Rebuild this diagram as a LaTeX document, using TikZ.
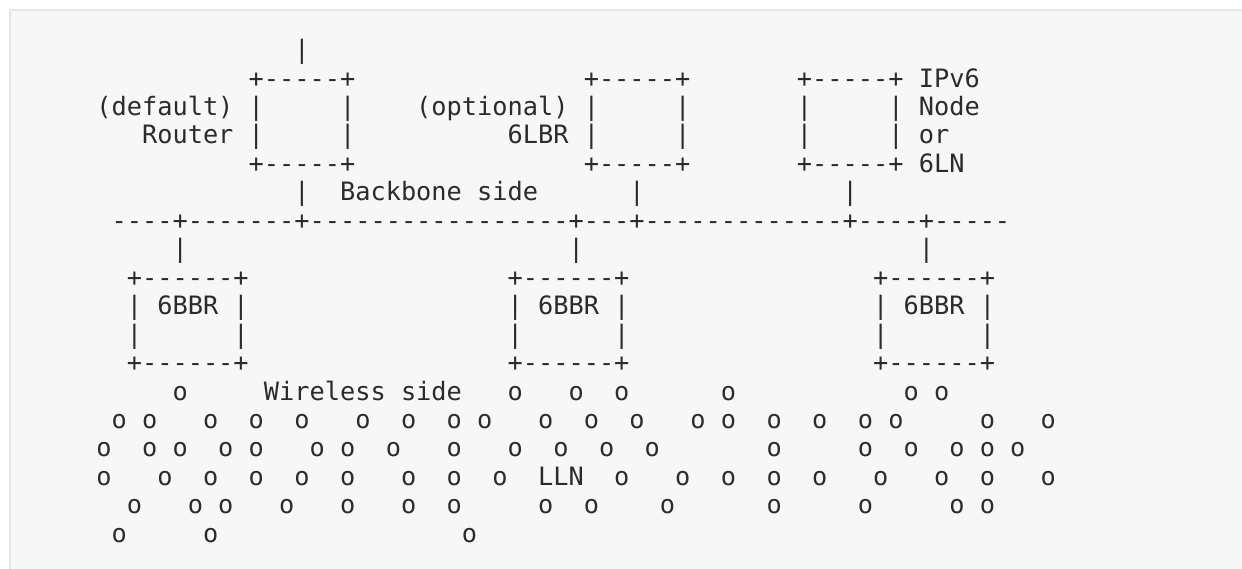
\documentclass[tikz,border=0pt]{standalone}
\usepackage{fontspec}
\setmonofont{DejaVu Sans Mono}
\definecolor{ink}{HTML}{2B2B2B}
\definecolor{panel}{HTML}{F7F7F7}
\definecolor{panelline}{HTML}{E6E6E6}
\begin{document}
\begin{tikzpicture}[x=1bp,y=-1bp,
  asc/.style={anchor=base west, inner sep=0pt, outer sep=0pt, text=ink,
    font=\ttfamily\fontsize{25.3bp}{28bp}\selectfont},
  panelbox/.style={fill=panel},
  panelrule/.style={draw=panelline, line width=1.5bp}]
\useasboundingbox (0,0) rectangle (1242,569);
\clip (0,0) rectangle (1242,569);
\fill[white] (0,0) rectangle (1242,569);
\fill[panelbox] (10,10) rectangle (1260,590);
\draw[panelrule] (10,590) -- (10,10) -- (1260,10);
\begin{scope}[x=15.23bp, y=-28.45bp, shift={(96.4bp,-58.6bp)}]
% row 0
\node[asc] (uplink) at (13,0) {|};
% row 1
\node[asc] (rtTop) at (10,1) {+-----+};
\node[asc] (lbrTop) at (32,1) {+-----+};
\node[asc] (ndTop) at (46,1) {+-----+};
\node[asc] (lblIPv6) at (54,1) {IPv6};
% row 2
\node[asc] (lblDefault) at (0,2) {(default)};
\node[asc] (rtL2) at (10,2) {|};
\node[asc] (rtR2) at (16,2) {|};
\node[asc] (lblOptional) at (21,2) {(optional)};
\node[asc] (lbrL2) at (32,2) {|};
\node[asc] (lbrR2) at (38,2) {|};
\node[asc] (ndL2) at (46,2) {|};
\node[asc] (ndR2) at (52,2) {|};
\node[asc] (lblNode) at (54,2) {Node};
% row 3
\node[asc] (lblRouter) at (3,3) {Router};
\node[asc] (rtL3) at (10,3) {|};
\node[asc] (rtR3) at (16,3) {|};
\node[asc] (lbl6LBR) at (27,3) {6LBR};
\node[asc] (lbrL3) at (32,3) {|};
\node[asc] (lbrR3) at (38,3) {|};
\node[asc] (ndL3) at (46,3) {|};
\node[asc] (ndR3) at (52,3) {|};
\node[asc] (lblOr) at (54,3) {or};
% row 4
\node[asc] (rtBot) at (10,4) {+-----+};
\node[asc] (lbrBot) at (32,4) {+-----+};
\node[asc] (ndBot) at (46,4) {+-----+};
\node[asc] (lbl6LN) at (54,4) {6LN};
% row 5
\node[asc] (rtLink) at (13,5) {|};
\node[asc] (lblBackbone) at (16,5) {Backbone};
\node[asc] (lblSide1) at (25,5) {side};
\node[asc] (lbrLink) at (35,5) {|};
\node[asc] (ndLink) at (49,5) {|};
% row 6 : backbone
\node[asc] (bb1) at (1,6) {----+};
\node[asc] (bb2) at (6,6) {-------+};
\node[asc] (bb3) at (14,6) {-----------------+};
\node[asc] (bb4) at (32,6) {---+};
\node[asc] (bb5) at (36,6) {-------------+};
\node[asc] (bb6) at (50,6) {----+};
\node[asc] (bb7) at (55,6) {-----};
% row 7
\node[asc] (bbrLinkA) at (5,7) {|};
\node[asc] (bbrLinkB) at (31,7) {|};
\node[asc] (bbrLinkC) at (54,7) {|};
% rows 8-11 : 6BBR boxes
\foreach \b/\c in {A/2,B/27,C/51}{
  \node[asc] (bbrTop\b) at (\c,8) {+------+};
  \node[asc] (bbrL9\b) at (\c,9) {|};
  \node[asc] (bbrLbl\b) at (\c+2,9) {6BBR};
  \node[asc] (bbrR9\b) at (\c+7,9) {|};
  \node[asc] (bbrL10\b) at (\c,10) {|};
  \node[asc] (bbrR10\b) at (\c+7,10) {|};
  \node[asc] (bbrBot\b) at (\c,11) {+------+};
}
% row 12
\node[asc] (lblWireless) at (11,12) {Wireless};
\node[asc] (lblSide2) at (20,12) {side};
\foreach \c in {5,27,31,34,41,53,55} \node[asc] (o12-\c) at (\c,12) {o};
% row 13
\foreach \c in {1,3,7,10,13,17,20,23,25,29,32,35,39,41,44,47,50,52,58,62}
  \node[asc] (o13-\c) at (\c,13) {o};
% row 14
\foreach \c in {0,3,5,8,10,14,16,19,23,27,30,33,36,44,50,53,56,58,60}
  \node[asc] (o14-\c) at (\c,14) {o};
% row 15
\node[asc] (lblLLN) at (29,15) {LLN};
\foreach \c in {0,4,7,10,13,16,20,23,26,34,38,41,44,47,51,55,58,62}
  \node[asc] (o15-\c) at (\c,15) {o};
% row 16
\foreach \c in {2,6,8,12,16,20,23,29,32,37,44,50,56,58}
  \node[asc] (o16-\c) at (\c,16) {o};
% row 17
\foreach \c in {1,7,24}
  \node[asc] (o17-\c) at (\c,17) {o};
\end{scope}
\end{tikzpicture}
\end{document}
